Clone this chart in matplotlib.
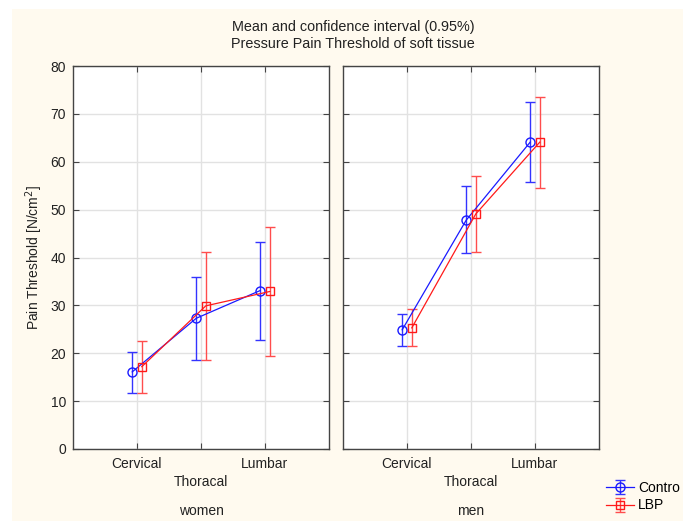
import matplotlib
matplotlib.use("Agg")
import matplotlib.pyplot as plt
from matplotlib.patches import Rectangle
import numpy as np

plt.rcParams['font.family'] = ['Liberation Sans', 'DejaVu Sans']

regions = ["Cervical", "Thoracal", "Lumbar"]
groups = ["women", "men"]
series = ["Contro", "LBP"]

# mean, lower CI, upper CI per group, per series
contro_mean = {"women": [16.1, 27.3, 33.1], "men": [24.9, 47.8, 64.1]}
contro_lo = {"women": [11.8, 18.5, 22.7], "men": [21.5, 40.9, 55.8]}
contro_hi = {"women": [20.3, 36.0, 43.3], "men": [28.2, 54.9, 72.4]}
lbp_mean = {"women": [17.2, 29.9, 32.9], "men": [25.3, 49.1, 64.1]}
lbp_lo = {"women": [11.6, 18.6, 19.4], "men": [21.5, 41.1, 54.6]}
lbp_hi = {"women": [22.6, 41.2, 46.3], "men": [29.2, 57.1, 73.6]}

W, H = 683, 521
fig = plt.figure(figsize=(W / 100, H / 100), dpi=100)
fig.patch.set_facecolor("white")
fig.patches.append(Rectangle((12 / W, 0), 1 - 12 / W, (H - 9) / H,
                             transform=fig.transFigure, facecolor="#fffaef",
                             edgecolor="none", zorder=-10))

ax_bottom = 1 - 449 / H
ax_h = 383 / H
ax_w = 256 / W
lefts = [73 / W, 343 / W]

fs = 10
x = np.arange(1, len(regions) + 1)
off = 0.075
handles = []
for gi, g in enumerate(groups):
    ax = fig.add_axes([lefts[gi], ax_bottom, ax_w, ax_h])
    ax.set_facecolor("white")
    ax.set_xlim(0, 4)
    ax.set_ylim(0, 80)
    ax.set_yticks(np.arange(0, 81, 10))
    ax.set_xticks(x)
    ax.set_xticklabels(regions, fontsize=fs, color="#222222")
    ax.grid(True, color="#e2e2e2", linewidth=1.0)
    ax.set_axisbelow(True)
    ax.tick_params(direction="in", top=True, right=True, length=4,
                   color="#444444", labelsize=fs, labelcolor="#222222")
    ax.tick_params(axis="x", pad=6)
    ax.tick_params(axis="y", pad=5)
    ticks = ax.xaxis.get_major_ticks()
    ticks[1].set_pad(18.5)
    for s in ax.spines.values():
        s.set_color("#444444")
        s.set_linewidth(1.0)
    if gi == 0:
        ax.set_ylabel("Pain Threshold [N/cm$^2$]", fontsize=fs, labelpad=4,
                      color="#222222")
    else:
        ax.set_yticklabels([])
    ax.text(0.5, (449 - 511) / 383, g, transform=ax.transAxes, ha="center",
            va="center", fontsize=fs, color="#222222")

    cm = np.array(contro_mean[g])
    e1 = ax.errorbar(x - off, cm,
                     yerr=[cm - np.array(contro_lo[g]), np.array(contro_hi[g]) - cm],
                     color="#1a1aff", ecolor="#3333ff", marker="o", markersize=6.5,
                     markerfacecolor="none", markeredgewidth=1.0, linewidth=0.9,
                     elinewidth=1.0, capsize=3.5, capthick=1.0, label=series[0])
    lm = np.array(lbp_mean[g])
    e2 = ax.errorbar(x + off, lm,
                     yerr=[lm - np.array(lbp_lo[g]), np.array(lbp_hi[g]) - lm],
                     color="#ff1a1a", ecolor="#ff4d4d", marker="s", markersize=6,
                     markerfacecolor="none", markeredgewidth=1.0, linewidth=0.9,
                     elinewidth=1.0, capsize=3.5, capthick=1.0, label=series[1])
    if gi == 0:
        handles = [e1, e2]

fig.text(353 / W, 1 - 27 / H, "Mean and confidence interval (0.95%)",
         ha="center", va="center", fontsize=10.4, color="#222222")
fig.text(353 / W, 1 - 43.5 / H, "Pressure Pain Threshold of soft tissue",
         ha="center", va="center", fontsize=10.4, color="#222222")

fig.legend(handles, series, loc="upper left", bbox_to_anchor=(606 / W, 1 - 481 / H),
           frameon=False, fontsize=fs, handlelength=2.0, handletextpad=0.3,
           labelspacing=0.25, borderpad=0.0, borderaxespad=0.0)

fig.savefig("out.png", dpi=100, facecolor=fig.get_facecolor())
